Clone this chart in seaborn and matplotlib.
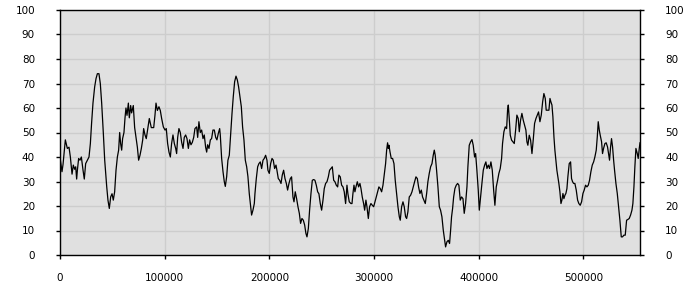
import matplotlib
matplotlib.use("Agg")
import matplotlib.pyplot as plt
import seaborn as sns
import pandas as pd
from matplotlib.ticker import FixedLocator, FuncFormatter

# sample positions (thousands) and values
x_k = [
    0, 1.9, 2.9, 5.1, 7.0, 8.6, 9.9, 11.5, 12.7, 14.0, 15.0, 15.9, 16.6, 17.8, 19.1, 20.4, 22.0, 23.2, 24.5, 26.1,
    27.7, 29.0, 30.2, 31.5, 33.1, 34.4, 35.7, 37.2, 38.5, 39.8, 41.4, 42.7, 44.6, 45.8, 47.1, 48.4, 49.7, 50.9, 52.2, 53.5,
    54.8, 56.0, 57.0, 57.9, 58.9, 59.8, 61.1, 62.1, 63.0, 64.0, 65.3, 66.2, 67.5, 68.4, 70.0, 71.3, 72.6, 73.9, 75.1, 76.4,
    77.7, 79.0, 79.9, 81.2, 82.4, 84.0, 85.3, 87.2, 89.5, 90.7, 91.7, 93.0,
    94.5, 95.8, 97.1, 98.7, 100.3, 101.5, 102.8, 104.1, 105.4, 106.6, 107.9, 109.2, 110.5, 111.4, 112.4, 113.6, 114.9, 116.2,
    117.5, 118.7, 120.0, 121.3, 122.6, 123.8, 125.1, 126.4, 127.7, 128.9, 130.5, 131.5, 132.7, 134.0, 135.3, 136.6, 137.8,
    139.1, 140.1, 141.0, 142.3, 143.6, 144.8, 146.1, 147.4, 148.7, 149.9, 151.2, 152.5, 153.1, 154.4, 155.7, 156.9, 157.9,
    159.2, 160.4, 161.7, 163.0, 164.3, 165.5, 166.8, 168.1, 169.4, 170.6, 171.9, 173.2, 174.4, 175.7, 177.0, 178.3, 179.5,
    180.8, 182.1, 183.0, 184.3, 185.6,
    186.2, 187.5, 188.8, 190.0, 191.3, 192.6, 193.9, 195.1, 196.4, 197.7, 198.6, 199.9, 201.2, 202.5, 203.7, 205.0, 206.3,
    207.2, 208.5, 209.8, 211.1, 212.3, 213.6, 214.9, 216.2, 217.4, 218.7, 220.0, 221.2, 222.5, 223.5, 224.7, 226.0, 227.3,
    228.6, 229.8, 231.1, 232.4, 233.7, 234.9, 235.9, 237.2, 238.4, 239.7, 241.0, 242.3, 243.5, 244.8, 246.1, 247.3, 248.6,
    249.9, 251.2, 252.4, 253.7, 255.0, 256.3, 257.5, 258.8, 260.1, 261.4, 262.6, 263.9, 265.2, 266.4, 267.7, 269.0, 270.3,
    271.5, 272.8, 274.1, 275.0, 276.3, 277.9,
    278.9, 279.8, 280.8, 281.7, 282.7, 284.0, 285.2, 286.5, 287.5, 288.7, 290.0, 291.0, 292.2, 293.2, 294.5, 295.7, 297.0,
    298.3, 299.6, 300.8, 302.1, 303.4, 304.6, 305.9, 307.2, 308.5, 309.7, 311.0, 312.0, 312.9, 313.6, 314.2, 315.2, 316.4,
    317.7, 319.0, 320.2, 321.5, 322.8, 324.1, 325.0, 326.3, 327.6, 328.8, 330.1, 331.1, 332.3, 333.6, 334.9, 336.2, 337.4,
    338.7, 340.0, 341.3, 342.5, 343.8, 345.1, 346.3, 347.6, 348.9, 350.2, 351.4, 352.7, 354.0, 355.3, 356.5, 357.5, 358.4,
    359.7, 361.0, 362.3, 363.5, 364.8, 366.1, 367.4, 368.3, 369.6, 370.9,
    372.1, 373.1, 374.0, 375.0, 376.0, 377.2, 378.5, 379.8, 381.0, 382.3, 383.6, 384.9, 386.1, 387.4, 388.7, 389.6, 390.9,
    392.2, 393.5, 394.7, 396.0, 397.0, 398.2, 399.5, 400.5, 401.7, 403.0, 404.3, 405.6, 406.8, 407.8, 409.1, 410.3, 411.6,
    412.9, 414.2, 415.4, 416.7, 418.0, 419.2, 420.5, 421.8, 422.7, 424.0, 425.3, 426.6, 427.5, 428.2, 429.1, 430.1, 431.3,
    432.6, 433.9, 435.2, 436.4, 437.7, 438.7, 439.9, 441.2, 442.5, 443.8, 445.0, 446.0, 446.9, 448.2, 449.5, 450.8, 452.0,
    453.3, 454.6, 455.9, 457.1, 458.4, 459.7, 461.0, 462.2, 463.5,
    464.4, 465.7, 467.0, 468.0, 468.9, 469.9, 470.8, 471.8, 472.7, 473.7, 474.6, 475.6, 476.5, 477.5, 478.5, 479.4, 480.4,
    481.3, 482.3, 483.2, 484.2, 485.1, 486.4, 487.7, 488.6, 489.6, 490.6, 491.8, 493.1, 494.4, 495.6, 496.9, 498.2, 499.5,
    500.7, 502.0, 503.3, 504.6, 505.8, 507.1, 508.4, 509.7, 510.9, 512.2, 513.2, 514.1, 515.1, 516.0, 517.3, 518.2, 519.2,
    520.5, 521.7, 523.0, 524.0, 524.9, 525.9, 526.8, 527.8, 528.8, 529.7, 531.0, 532.3, 533.5, 534.8, 536.1, 537.3, 538.6,
    539.9, 541.2, 542.4, 543.7, 545.0, 546.3, 547.2, 548.2, 549.1, 550.1, 551.4, 552.3, 553.3, 554.0,
]

values = [
    40, 34, 37, 47, 43.5, 44, 40, 33, 36.7, 35, 36, 31, 34.6, 39.4, 38.7, 40, 34.6, 31, 37.3, 38.7,
    40, 45.5, 54, 62, 68.6, 72, 74, 74, 70, 62, 49.6, 38.7, 28, 22.4, 19, 23.7, 25, 22.4, 25.8, 34.6,
    40, 42.8, 50, 45.5, 42.8, 47.5, 50, 56, 60, 57, 62, 56, 61, 58, 61, 52, 48, 44, 38.7, 40.7,
    43.5, 47, 51.6, 49, 47.5, 52, 55.7, 52, 52, 57, 62, 59,
    60.5, 59, 55.7, 52.3, 51, 51.6, 45.5, 42, 40, 45.5, 49, 45.5, 43.5, 41.4, 48, 51.6, 50, 46,
    43.5, 48, 49, 47.5, 43.5, 47, 45, 46, 48, 51.6, 52.3, 48, 54.4, 50, 51, 47.5, 49,
    44, 42, 45, 43.5, 47, 47.5, 51, 51, 48, 47, 49.6, 51.6, 49, 39.4, 34, 30, 28,
    32, 38.7, 40.7, 49.6, 57.8, 64.6, 70.7, 73, 71.4, 68.6, 64.6, 60.5, 52.3, 47, 38.7, 36, 32,
    25, 19.7, 16.3, 18.3, 21,
    25, 31.2, 36, 37.3, 38, 35.3, 38.7, 39.4, 40.7, 38.7, 34.6, 33.3, 37.3, 39.4, 38.7, 35.3, 36.7,
    34.6, 31.2, 30.5, 29.2, 32.6, 34.6, 31.2, 29.2, 26.5, 29.2, 31.2, 31.9, 23.7, 21.7, 25.8, 23, 19.7,
    17, 12.9, 14.9, 14.2, 12.2, 8.8, 7.4, 10.8, 18.3, 25, 30.5, 30.8, 30.5, 28.5, 25.8, 25, 21,
    18.3, 22.4, 27.1, 29.2, 29.9, 31.9, 34.6, 35.3, 36, 30.5, 29.9, 28.5, 27.8, 32.6, 31.9, 28.5, 27.8,
    25.8, 21, 28.5, 25, 21.7, 21,
    21, 25.1, 28.5, 25.8, 27.8, 29.9, 27.8, 29.2, 27.1, 23.7, 21, 18.3, 22.4, 19.7, 14.9, 19.7, 21,
    20.3, 19.7, 21.7, 23.7, 25.8, 27.8, 27.1, 25.8, 28.5, 32.6, 37.3, 42.8, 45.8, 43.5, 44.8, 42.1, 39.4,
    39.4, 37.3, 30.5, 25.1, 19.7, 15.6, 14.2, 19.7, 21.7, 19.7, 15.6, 14.9, 17.6, 23.7, 24.4, 25.8, 27.8,
    29.9, 31.9, 31.2, 27.8, 25.1, 26.5, 23.7, 22.4, 21, 25.1, 29.9, 33.3, 36, 37.3, 40.7, 42.8, 40.7,
    34.6, 27.8, 19.7, 18.3, 15.6, 10.1, 6, 3.3, 5.4, 6,
    4.7, 10.1, 15.6, 19, 23.7, 27.1, 28.5, 29.2, 28.5, 22.4, 23.7, 23, 17, 21, 27.8, 36, 44.8,
    46.2, 47.1, 44.8, 40, 41.4, 34.6, 26.5, 18.3, 23.7, 29.2, 34.6, 36.7, 38, 35.3, 36.7, 35.3, 38,
    34.6, 26.5, 20.3, 27.8, 30.5, 33.3, 35.3, 39.4, 45.5, 50.3, 52.3, 51.6, 59.1, 61.2, 55.7, 48.9, 46.9,
    46.2, 45.5, 51, 57.1, 55.7, 50.3, 55, 57.8, 55, 53, 51, 46.2, 44.8, 48.9, 46.9, 41.4, 46.9,
    53.7, 55.7, 57.1, 58.4, 54.4, 57.1, 62.5, 65.9, 63.9,
    59.1, 59.1, 59.1, 63.9, 62.5, 61.2, 56.4, 48.2, 42.8, 38.7, 34.6, 31.9, 29.2, 25.8, 21, 22.4, 25.1,
    23, 24.4, 25.1, 27.1, 31.9, 37.3, 38, 31.2, 29.9, 29.2, 29.2, 26.5, 22.4, 21, 20.3, 21.7, 25.1,
    26.5, 28.5, 27.8, 28.5, 30.5, 34, 36.7, 38, 40, 42.8, 48.2, 54.4, 51, 48.9, 46.2, 41.4, 43.5,
    45.5, 45.8, 44.1, 41.4, 38.7, 44.1, 47.5, 44.1, 38.7, 34.6, 29.2, 25.1, 19.7, 14.2, 7.4, 7.4, 8.1,
    8.1, 14.2, 14.5, 14.9, 16.3, 18.3, 21, 27.8, 36, 43.5, 41.4, 39.4, 43.5, 45.8,
]

x_ticks = [0, 100000, 200000, 300000, 400000, 500000]
y_ticks = [0, 10, 20, 30, 40, 50, 60, 70, 80, 90, 100]

df = pd.DataFrame({"x": [v * 1000 for v in x_k], "y": values})

fig = plt.figure(figsize=(7, 3), dpi=100)
ax = fig.add_axes([60 / 700, 45 / 300, 580 / 700, 245 / 300])
ax.set_facecolor("#e0e0e0")

sns.lineplot(data=df, x="x", y="y", color="black", linewidth=0.9, ax=ax, estimator=None, sort=False)

ax.set_xlim(0, 554000)
ax.set_ylim(0, 100)
ax.xaxis.set_major_locator(FixedLocator(x_ticks))
ax.yaxis.set_major_locator(FixedLocator(y_ticks))
ax.xaxis.set_major_formatter(FuncFormatter(lambda v, p: f"{int(v)}"))
ax.yaxis.set_major_formatter(FuncFormatter(lambda v, p: f"{int(v)}"))
ax.grid(True, color="#cdcdcd", linewidth=1.0)
ax.set_axisbelow(True)
for s in ax.spines.values():
    s.set_color("black")
    s.set_linewidth(1.0)

ax.tick_params(axis="y", which="both", left=True, right=True, labelleft=True, labelright=True,
               direction="out", length=3, width=1, pad=15, labelsize=7.5, colors="black")
ax.tick_params(axis="x", direction="out", length=3, width=1, pad=10, labelsize=7.5, colors="black")
ax.set_xlabel("")
ax.set_ylabel("")

fig.savefig("out.png", dpi=100)
